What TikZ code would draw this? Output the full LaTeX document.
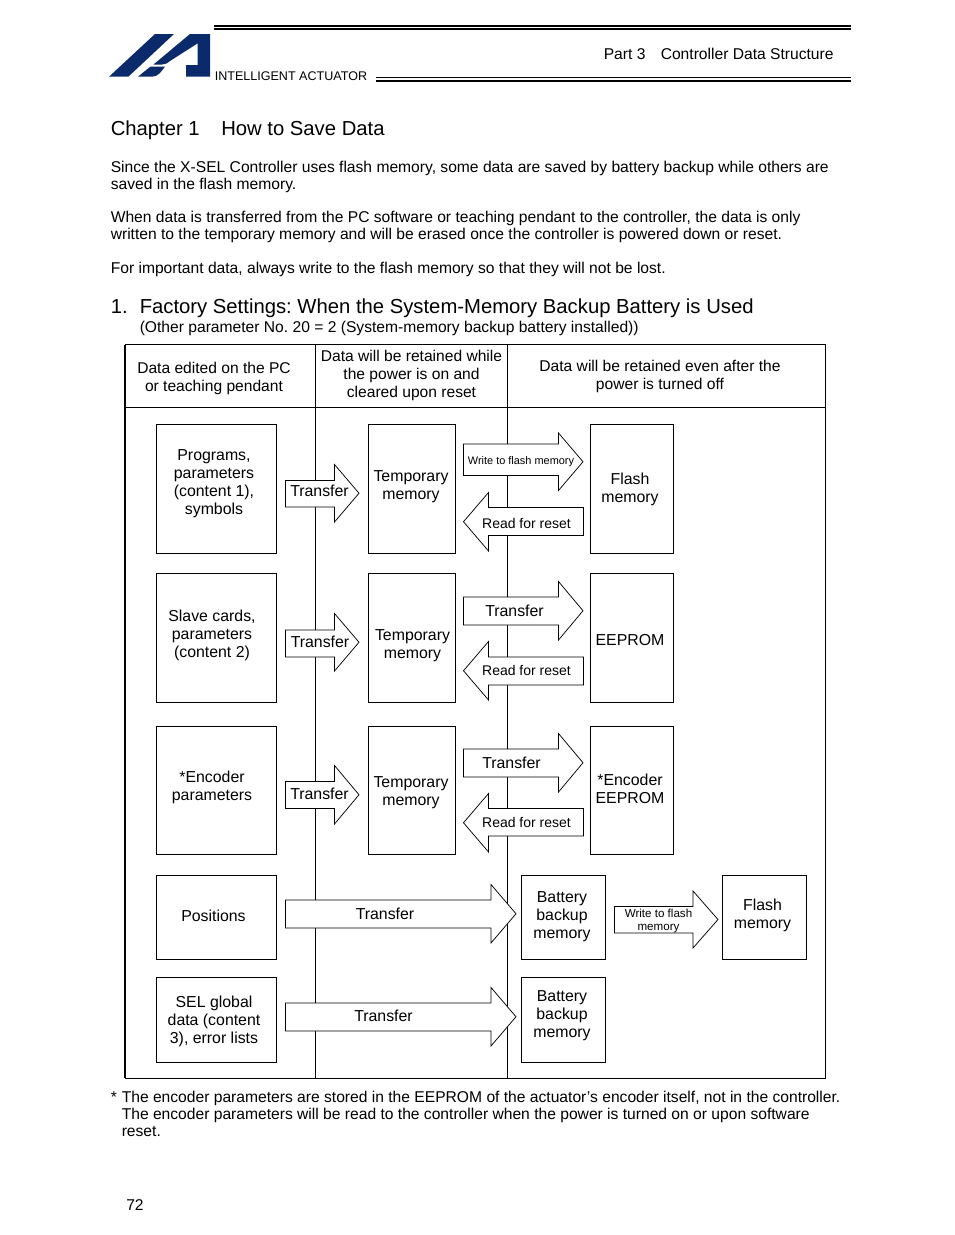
\documentclass[tikz,border=0pt]{standalone}
\usepackage{fontspec}
\setmainfont{Liberation Sans}
\frenchspacing
\definecolor{iablue}{HTML}{0B2A6B}
\tikzset{
  boxnode/.style={draw=black,line width=0.65pt,fill=white,inner sep=0pt,outer sep=0pt},
  lab/.style={align=center,font=\fontsize{11.9}{13.5}\selectfont,inner sep=0pt},
  hdr/.style={align=center,font=\fontsize{11.7}{13.5}\selectfont,inner sep=0pt},
  readlab/.style={lab,font=\fontsize{10.5}{12}\selectfont},
  para/.style={anchor=base west,inner sep=0pt,font=\fontsize{11.72}{13}\selectfont},
  bighead/.style={font=\fontsize{15.2}{17}\selectfont},
  blockarrow/.style={draw=black,line width=0.55pt,fill=white,line join=miter},
  frameline/.style={draw=black,line width=0.65pt}
}
\newcommand{\rarrow}[8]{%
  \draw[blockarrow] (#2+0.5,#6) -- (#3,#6) -- (#3,#5) -- (#4,{(#5+#8)/2}) -- (#3,#8) -- (#3,#7) -- (#2+0.5,#7) -- cycle;
  \coordinate (#1) at ({(#2+#3)/2},{(#6+#7)/2});}
\newcommand{\larrow}[8]{\rarrow{#1}{#2}{#3}{#4}{#5}{#6}{#7}{#8}}
\newcommand{\bx}[8]{%
  \node[boxnode,minimum width={(#4-#2-1)*0.75pt},minimum height={(#5-#3-1)*0.75pt}] (#1) at ({(#2+#4)/2},{(#3+#5)/2}) {};
  \node[lab] (#1t) at (#6,#7) {#8};}
\begin{document}
\begin{tikzpicture}[x=0.75pt,y=-0.75pt]
\useasboundingbox (0,0) rectangle (954,1235);
\fill[white] (0,0) rectangle (954,1235);
% logo
\fill[iablue] (109,76.7) -- (155,34) -- (174,34) -- (128.3,76.7) -- cycle;
\fill[iablue] (190,34) -- (210,34) -- (210,76.7) -- (186,76.7) -- (186,65) -- (197.7,65) -- (197.7,43.3) -- (170,61) .. controls (167,63.5) and (165,64.5) .. (162,64.5) -- (153.5,64.5) -- cycle;
\fill[iablue] (138,76.7) -- (150.5,66.5) -- (165,66.5) .. controls (161,72) and (158,76.7) .. (152,76.7) -- cycle;
% header rules
\draw[line width=1.1pt] (214,26) -- (851,26);
\draw[line width=1.8pt] (214,29) -- (851,29);
\draw[line width=1.1pt] (376,77.3) -- (851,77.3);
\draw[line width=1.8pt] (376,81) -- (851,81);
\node[para] (part) at (603.5,59) {Part 3};
\node[para] (cds) at (660.5,59) {Controller Data Structure};
\node[para,font=\fontsize{9.42}{11}\selectfont] (ia) at (214.5,80) {INTELLIGENT ACTUATOR};
% texts
\node[para,bighead] (ch) at (110.5,135) {Chapter 1};
\node[para,bighead] (cht) at (221,135) {How to Save Data};
\node[para] (p1) at (110.5,172) {Since the X-SEL Controller uses flash memory, some data are saved by battery backup while others are};
\node[para] (p2) at (110.5,189) {saved in the flash memory.};
\node[para] (p3) at (110.5,222) {When data is transferred from the PC software or teaching pendant to the controller, the data is only};
\node[para] (p4) at (110.5,239) {written to the temporary memory and will be erased once the controller is powered down or reset.};
\node[para] (p5) at (110.5,273) {For important data, always write to the flash memory so that they will not be lost.};
\node[para,bighead] (s1) at (110.5,313) {1.};
\node[para,bighead] (s2) at (139.5,313) {Factory Settings: When the System-Memory Backup Battery is Used};
\node[para] (s3) at (139.5,332) {(Other parameter No. 20 = 2 (System-memory backup battery installed))};
% frame
\draw[frameline] (125,344.7) rectangle (825.5,1078);
\draw[line width=1.1pt] (125.2,344.7) -- (125.2,1078);
\draw[frameline] (125,407) -- (825.5,407);
\coordinate (v1t) at (315.6,344.7); \coordinate (v1b) at (315.6,1078);
\coordinate (v2t) at (507.4,344.7); \coordinate (v2b) at (507.4,1078);
\draw[frameline] (v1t) -- (v1b);
\draw[frameline] (v2t) -- (v2b);
\node[hdr] (h1) at (214,378) {Data edited on the PC\\or teaching pendant};
\node[hdr] (h2) at (411.5,375.5) {Data will be retained while\\the power is on and\\cleared upon reset};
\node[hdr] (h3) at (660,376) {Data will be retained even after the\\power is turned off};
% boxes
\bx{a1}{156}{424}{277}{554}{214}{484}{Programs,\\parameters\\(content 1),\\symbols}
\bx{b1}{368}{424}{456}{554}{411}{487}{Temporary\\memory}
\bx{c1}{590}{424}{674}{554}{630}{489}{Flash\\memory}
\bx{a2}{156}{573}{277}{703}{212}{635}{Slave cards,\\parameters\\(content 2)}
\bx{b2}{368}{573}{456}{703}{412.5}{646}{Temporary\\memory}
\bx{c2}{590}{573}{674}{703}{630}{640}{EEPROM}
\bx{a3}{156}{726}{277}{855}{212}{787}{*Encoder\\parameters}
\bx{b3}{368}{726}{456}{855}{411}{793}{Temporary\\memory}
\bx{c3}{590}{726}{674}{855}{630}{789}{*Encoder\\EEPROM}
\bx{a4}{156}{875}{277}{960}{213.5}{916}{Positions}
\bx{b4}{521}{875}{606}{960}{562}{917}{Battery\\backup\\memory}
\bx{c4}{722}{875}{807}{960}{762.5}{915}{Flash\\memory}
\bx{a5}{156}{977}{277}{1063}{214}{1021}{SEL global\\data (content\\3), error lists}
\bx{b5}{521}{977}{606}{1063}{562}{1016}{Battery\\backup\\memory}
% arrows
\rarrow{t1}{285}{334.5}{359}{464.5}{480.5}{507}{522}
\node[lab] (t1t) at (319.5,491) {Transfer};
\rarrow{w1}{463}{558.5}{583}{433}{444}{475.5}{490.5}
\node[lab,font=\fontsize{8.2}{10}\selectfont] (w1t) at (521,462) {Write to flash memory};
\larrow{r1}{583}{488.5}{463.5}{492.5}{507.5}{535.5}{551}
\node[readlab] (r1t) at (526.5,523) {Read for reset};
\rarrow{t2}{285}{334.5}{359}{613.5}{630}{657}{671}
\node[lab] (t2t) at (320,642) {Transfer};
\rarrow{w2}{463}{558.5}{583}{581.5}{597}{625}{640}
\node[lab] (w2t) at (514.5,611) {Transfer};
\larrow{r2}{583}{488.5}{463.5}{641.5}{657}{685}{700}
\node[readlab] (r2t) at (526.5,670) {Read for reset};
\rarrow{t3}{285}{334.5}{359}{765.5}{781.5}{808.5}{824}
\node[lab] (t3t) at (319.5,794) {Transfer};
\rarrow{w3}{463}{558.5}{583}{733.5}{749}{777}{792}
\node[lab] (w3t) at (511.5,763) {Transfer};
\larrow{r3}{583}{488.5}{463.5}{793.5}{808.5}{836}{852}
\node[readlab] (r3t) at (526.5,822) {Read for reset};
\rarrow{t4}{285}{491}{516}{884.5}{900}{928}{943}
\node[lab] (t4t) at (385,914) {Transfer};
\rarrow{t5}{285}{491}{516}{987.5}{1003}{1031}{1046}
\node[lab] (t5t) at (383.5,1016) {Transfer};
\rarrow{w4}{614}{693}{718}{891}{906.5}{933}{948}
\node[lab,font=\fontsize{8.7}{10.4}\selectfont] (w4t) at (658.5,921) {Write to flash\\memory};
% footnote
\node[para] (f0) at (110.5,1102) {*};
\node[para] (f1) at (121.5,1102) {The encoder parameters are stored in the EEPROM of the actuator’s encoder itself, not in the controller.};
\node[para] (f2) at (121.5,1119) {The encoder parameters will be read to the controller when the power is turned on or upon software};
\node[para] (f3) at (121.5,1136) {reset.};
\node[para] (pg) at (126,1210) {72};
\end{tikzpicture}
\end{document}
